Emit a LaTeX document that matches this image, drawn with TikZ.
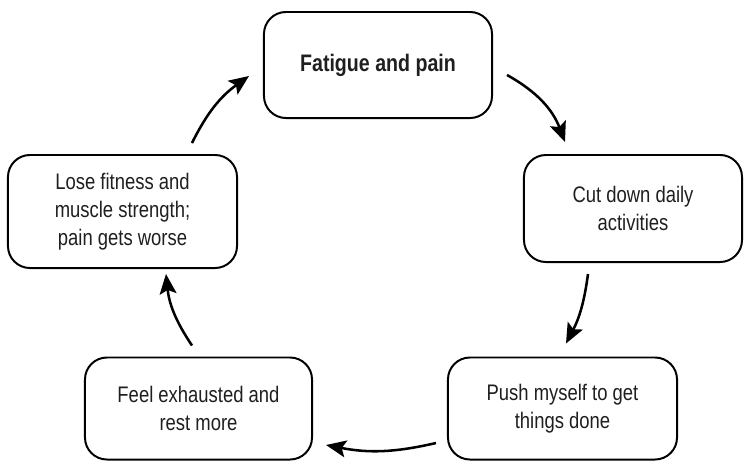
\documentclass[tikz,border=0pt]{standalone}
\usepackage{fontspec}
\setmainfont[FakeStretch=0.82]{Liberation Sans}
\usetikzlibrary{arrows.meta}
\tikzset{
	stage/.style={draw=black, line width=1.4pt, rounded corners=0.55cm,
		align=center, inner sep=0pt, text=black!88,
		font=\fontsize{16}{20}\selectfont},
	cycarrow/.style={line width=1.8pt,
		-{Stealth[length=0.5cm, width=0.42cm, inset=0.1cm]}}
}
\begin{document}
\begin{tikzpicture}[x=0.025cm, y=-0.025cm]
	\useasboundingbox (0,0) rectangle (744,461);
	% Kaesten
	\node[stage, minimum width=5.7cm, minimum height=2.65cm] (fatigue) at (378, 65)
	{\fontsize{17}{20}\selectfont\bfseries Fatigue and pain};
	\node[stage, minimum width=5.45cm, minimum height=2.675cm] (cutdown) at (633, 208.5)
	{Cut down daily\\activities};
	\node[stage, minimum width=5.725cm, minimum height=2.55cm] (push) at (562.5, 408.5)
	{Push myself to get\\things done};
	\node[stage, minimum width=5.675cm, minimum height=2.55cm] (exhausted) at (198.5, 408.5)
	{Feel exhausted and\\rest more};
	\node[stage, minimum width=5.725cm, minimum height=2.825cm] (fitness) at (122.5, 211.5)
	{Lose fitness and\\muscle strength;\\pain gets worse};

	% Pfeile im Kreis
	\draw[cycarrow] ([shift={(14,10)}]fatigue.east) to[bend left=20]
	([shift={(-68,-12)}]cutdown.north);
	\draw[cycarrow] ([shift={(-45,11)}]cutdown.south) to[bend left=10]
	([shift={(3.5,-13)}]push.north);
	\draw[cycarrow] ([shift={(-11,34.5)}]push.west) to[bend left=12]
	([shift={(13,36.5)}]exhausted.east);
	\draw[cycarrow] ([shift={(-6.5,-11)}]exhausted.north) to[bend left=14]
	([shift={(43.5,5)}]fitness.south);
	\draw[cycarrow] ([shift={(69.5,-11)}]fitness.north) to[bend left=14]
	([shift={(-14,11)}]fatigue.west);
\end{tikzpicture}
\end{document}
